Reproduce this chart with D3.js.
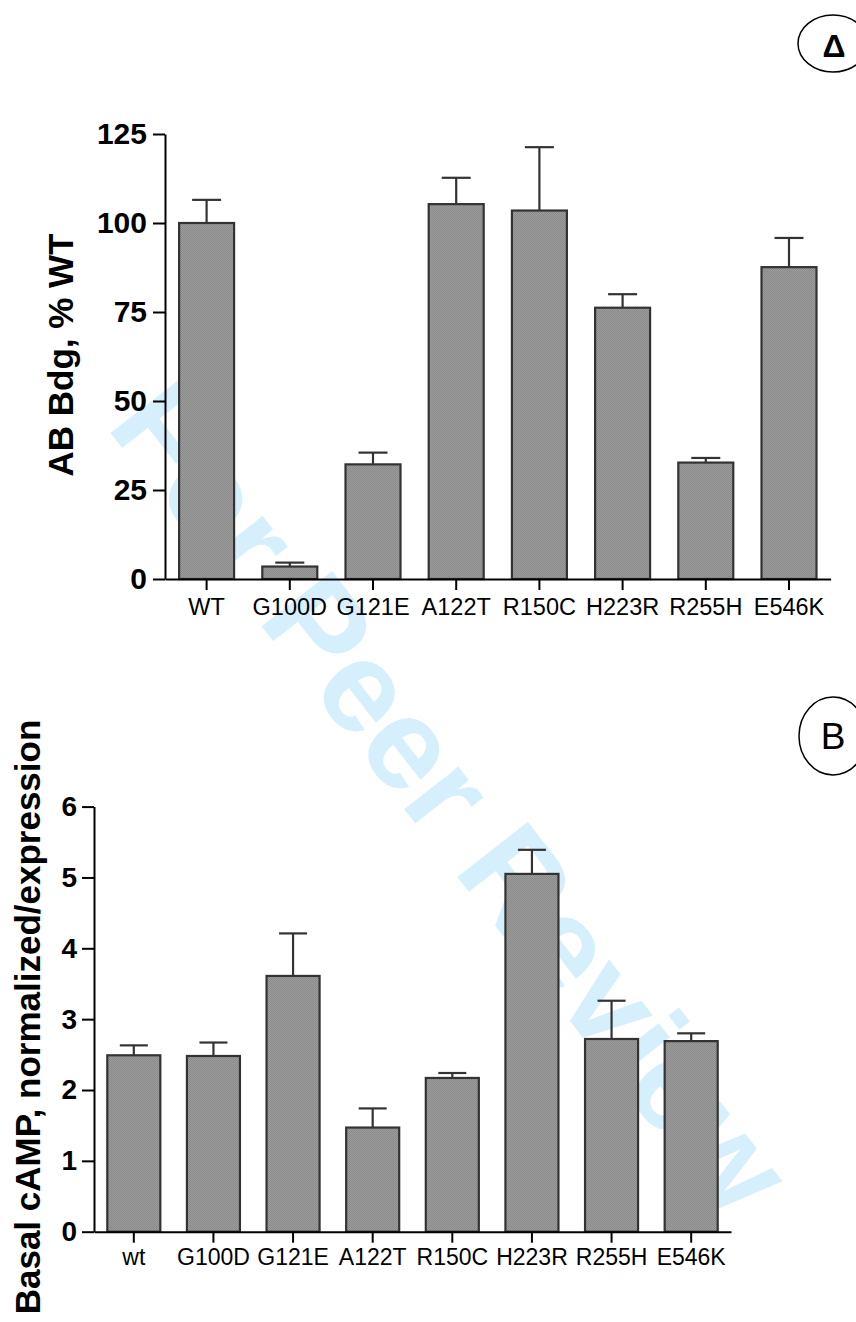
<!DOCTYPE html>
<html>
<head>
<meta charset="utf-8">
<script src="https://cdn.jsdelivr.net/npm/d3@7"></script>
<style>
  body { margin: 0; background: #fff; }
  svg { display: block; font-family: "Liberation Sans", Arial, Helvetica, sans-serif; }
</style>
</head>
<body>
<div id="chart"></div>
<script>
// panel A: antibody binding, % of WT
var labelsA = ["WT", "G100D", "G121E", "A122T", "R150C", "H223R", "R255H", "E546K"];
var meanA = [100, 3.5, 32.2, 105.3, 103.5, 76.2, 32.7, 87.6];
var errA = [6.5, 1.1, 3.3, 7.4, 17.8, 3.8, 1.3, 8.2];
var ticksA = [0, 25, 50, 75, 100, 125];

// panel B: basal cAMP
var labelsB = ["wt", "G100D", "G121E", "A122T", "R150C", "H223R", "R255H", "E546K"];
var meanB = [2.49, 2.48, 3.61, 1.47, 2.17, 5.05, 2.72, 2.69];
var errB = [0.14, 0.19, 0.60, 0.27, 0.07, 0.34, 0.54, 0.11];
var ticksB = [0, 1, 2, 3, 4, 5, 6];

var width = 856, height = 1322;

var svg = d3.select("#chart")
  .append("svg")
    .attr("width", width)
    .attr("height", height);

// dotted gray fill like the original
var defs = svg.append("defs");
var pat = defs.append("pattern")
    .attr("id", "dots")
    .attr("width", 2).attr("height", 2)
    .attr("patternUnits", "userSpaceOnUse");
pat.append("rect").attr("width", 2).attr("height", 2).attr("fill", "#9c9c9c");
pat.append("rect").attr("width", 1).attr("height", 1).attr("fill", "#8a8a8a");
pat.append("rect").attr("x", 1).attr("y", 1).attr("width", 1).attr("height", 1).attr("fill", "#8a8a8a");

// watermark behind everything
svg.append("text")
    .attr("transform", "translate(452,797) rotate(52)")
    .attr("text-anchor", "middle")
    .attr("dominant-baseline", "central")
    .attr("font-size", 130)
    .attr("font-weight", "bold")
    .attr("fill", "#d5effc")
    .text("For Peer Review");

function drawPanel(cfg) {
  var x = d3.scaleBand()
      .domain(cfg.labels)
      .range(cfg.xRange)
      .paddingInner(cfg.pad)
      .paddingOuter(cfg.pad / 2);

  var y = d3.scaleLinear()
      .domain(cfg.yDomain)
      .range(cfg.yRange);

  var g = svg.append("g");
  var y0 = y(0);

  // bars
  g.selectAll(".bar")
    .data(cfg.mean)
    .enter()
    .append("rect")
      .attr("x", function(d, i) { return x(cfg.labels[i]); })
      .attr("y", function(d) { return y(d); })
      .attr("width", x.bandwidth())
      .attr("height", function(d) { return y0 - y(d); })
      .attr("fill", "url(#dots)")
      .attr("stroke", "#333")
      .attr("stroke-width", 2.2);

  // error bars (upper only)
  var eb = g.selectAll(".err")
    .data(cfg.mean)
    .enter()
    .append("g");
  eb.append("line")
      .attr("x1", function(d, i) { return x(cfg.labels[i]) + x.bandwidth() / 2; })
      .attr("x2", function(d, i) { return x(cfg.labels[i]) + x.bandwidth() / 2; })
      .attr("y1", function(d) { return y(d); })
      .attr("y2", function(d, i) { return y(d + cfg.err[i]); })
      .attr("stroke", "#333")
      .attr("stroke-width", 2.2);
  eb.append("line")
      .attr("x1", function(d, i) { return x(cfg.labels[i]) + x.bandwidth() / 2 - cfg.cap / 2; })
      .attr("x2", function(d, i) { return x(cfg.labels[i]) + x.bandwidth() / 2 + cfg.cap / 2; })
      .attr("y1", function(d, i) { return y(d + cfg.err[i]); })
      .attr("y2", function(d, i) { return y(d + cfg.err[i]); })
      .attr("stroke", "#333")
      .attr("stroke-width", 2.2);

  // y axis
  var ya = g.append("g")
      .attr("transform", "translate(" + cfg.xRange[0] + ",0)")
      .call(d3.axisLeft(y).tickValues(cfg.ticks).tickFormat(d3.format("d"))
        .tickSize(12).tickSizeOuter(0).tickPadding(cfg.yPad));
  ya.selectAll("path, line").attr("stroke", "#000").attr("stroke-width", 2);
  ya.selectAll("text")
      .attr("font-size", cfg.yFont)
      .attr("font-weight", "bold")
      .attr("font-family", "Liberation Sans, Arial, sans-serif")
      .attr("fill", "#000");

  // x axis
  var xa = g.append("g")
      .attr("transform", "translate(0," + y0 + ")")
      .call(d3.axisBottom(x).tickSize(11).tickSizeOuter(0).tickPadding(cfg.xPad));
  xa.selectAll("path, line").attr("stroke", "#000").attr("stroke-width", 2);
  xa.selectAll("text")
      .attr("font-size", cfg.xFont)
      .attr("font-family", "Liberation Sans, Arial, sans-serif")
      .attr("fill", "#000");

  // axis title
  g.append("text")
      .attr("transform", "translate(" + cfg.titleX + "," + cfg.titleY + ") rotate(-90)")
      .attr("text-anchor", "middle")
      .attr("font-size", 35)
      .attr("font-weight", "bold")
      .text(cfg.title);
}

drawPanel({
  labels: labelsA, mean: meanA, err: errA, ticks: ticksA,
  xRange: [165, 830.6], pad: 0.339,
  yDomain: [0, 125], yRange: [579, 134],
  cap: 29, yPad: 6, yFont: 30, xPad: 8, xFont: 23.5,
  title: "AB Bdg, % WT", titleX: 73, titleY: 355
});

drawPanel({
  labels: labelsB, mean: meanB, err: errB, ticks: ticksB,
  xRange: [94, 731], pad: 0.334,
  yDomain: [0, 6], yRange: [1231.7, 806.6],
  cap: 28, yPad: 5, yFont: 28, xPad: 6, xFont: 23,
  title: "Basal cAMP, normalized/expression", titleX: 40, titleY: 1017
});

// panel letters
svg.append("ellipse")
    .attr("cx", 833).attr("cy", 43.5).attr("rx", 35).attr("ry", 28.5)
    .attr("fill", "none").attr("stroke", "#000").attr("stroke-width", 1.5);
svg.append("text")
    .attr("x", 834).attr("y", 57)
    .attr("text-anchor", "middle")
    .attr("font-size", 32).attr("font-weight", "bold")
    .text("Δ");

svg.append("ellipse")
    .attr("cx", 833).attr("cy", 736).attr("rx", 34).attr("ry", 39)
    .attr("fill", "none").attr("stroke", "#000").attr("stroke-width", 1.5);
svg.append("text")
    .attr("x", 833).attr("y", 749)
    .attr("text-anchor", "middle")
    .attr("font-size", 37)
    .text("B");
</script>
</body>
</html>
